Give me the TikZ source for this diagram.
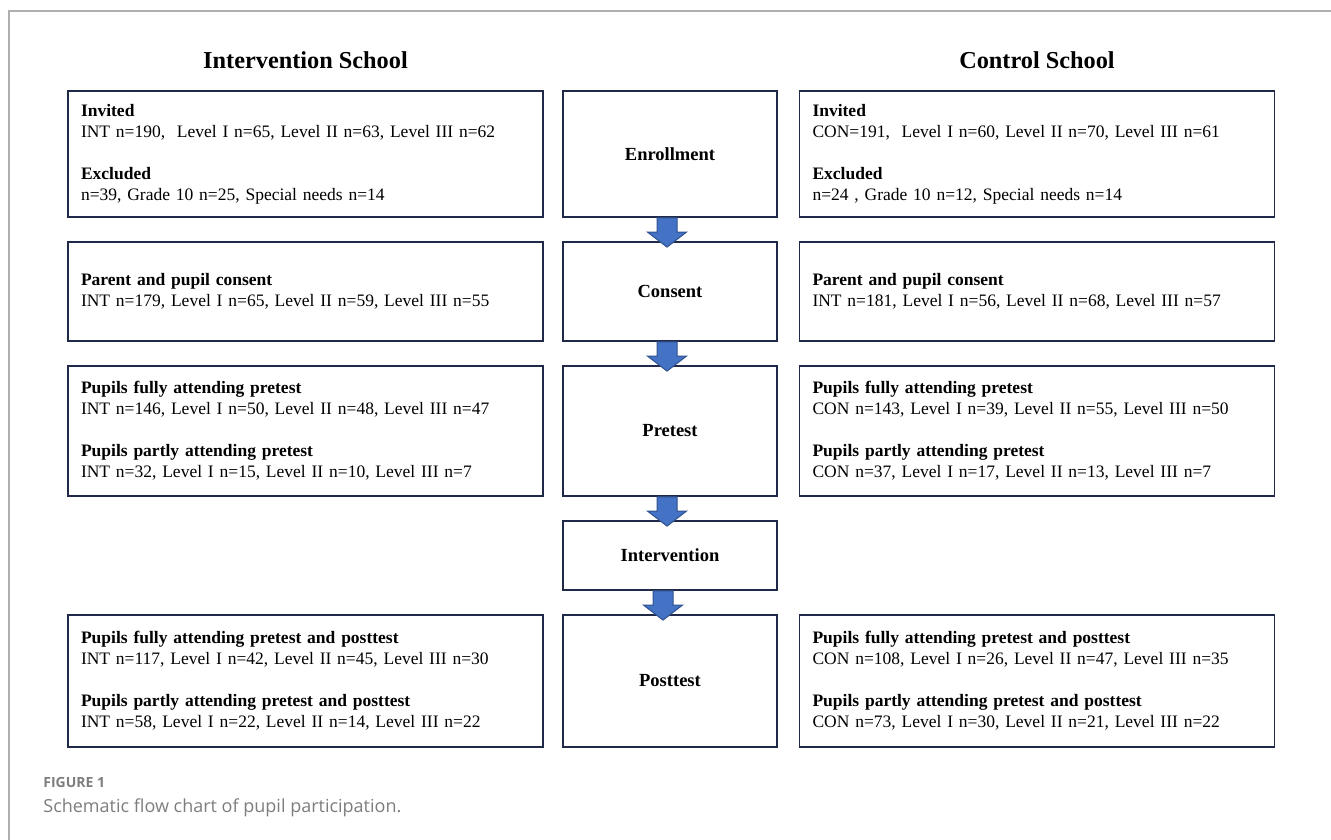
\documentclass[tikz,border=0pt]{standalone}
\usepackage{fontspec}
\setmainfont{Liberation Serif}
\newfontfamily\capfont{Open Sans}
\usetikzlibrary{calc}

\definecolor{boxline}{RGB}{32,42,72}
\definecolor{arrfill}{RGB}{68,114,196}
\definecolor{arrline}{RGB}{47,82,143}
\definecolor{framegray}{RGB}{175,175,175}
\definecolor{capgray}{RGB}{125,125,125}

\tikzset{every picture/.style={line width=0.75pt}}
\tikzset{
  sidebox/.style={draw=boxline, line width=1.8pt, rectangle, inner xsep=13pt, inner ysep=0pt, text width=449pt, align=left, font=\fontsize{17.5}{21}\selectfont},
  midbox/.style={draw=boxline, line width=1.8pt, rectangle, inner sep=0pt, minimum width=214pt, font=\bfseries\fontsize{18.5}{22}\selectfont},
  colhead/.style={anchor=base, inner sep=0pt, font=\bfseries\fontsize{24.3}{28}\selectfont},
  blockarrow/.style={fill=arrfill, draw=arrline, line width=1pt, line join=miter},
}

% block arrow from one stage box down to the next
\newcommand{\blockarr}[3][-3]{%
  \path let \p1=($(#2.south)+(#1,0)$), \p2=(#3.north) in
    [blockarrow] (\x1-10pt,\y1) -- (\x1+10pt,\y1) -- (\x1+10pt,\y2+9pt) -- (\x1+19.5pt,\y2+9pt)
    -- (\x1,\y2-6pt) -- (\x1-19.5pt,\y2+9pt) -- (\x1-10pt,\y2+9pt) -- cycle;}

\begin{document}
\begin{tikzpicture}[x=1pt,y=-1pt]
		\useasboundingbox (0,0) rectangle (1331,840);
		\draw [framegray, line width=1.5pt] (9,840) -- (9,11) -- (1331,11);

		\node [colhead] (inthead) at (305.5,69) {Intervention School};
		\node [colhead] (conhead) at (1037,69) {Control School};

		% middle column
		\node [midbox, minimum height=126pt] (enrol) at (670,154) {Enrollment};
		\node [midbox, minimum height=99pt] (consent) at (670,291.5) {Consent};
		\node [midbox, minimum height=130pt] (pretest) at (670,431) {Pretest};
		\node [midbox, minimum height=69pt] (interv) at (670,555.5) {Intervention};
		\node [midbox, minimum height=132pt] (posttest) at (670,681) {Posttest};

		% intervention school
		\node [sidebox, minimum height=126pt] (intenrol) at (305.5,154) {\textbf{Invited}\\INT n=190,\ \ Level I n=65, Level II n=63, Level III n=62\\[21pt]\textbf{Excluded}\\n=39, Grade 10 n=25, Special needs n=14};
		\node [sidebox, minimum height=99pt] (intconsent) at (305.5,291.5) {\textbf{Parent and pupil consent}\\INT n=179, Level I n=65, Level II n=59, Level III n=55};
		\node [sidebox, minimum height=130pt] (intpre) at (305.5,431) {\textbf{Pupils fully attending pretest}\\INT n=146, Level I n=50, Level II n=48, Level III n=47\\[21pt]\textbf{Pupils partly attending pretest}\\INT n=32, Level I n=15, Level II n=10, Level III n=7};
		\node [sidebox, minimum height=132pt] (intpost) at (305.5,681) {\textbf{Pupils fully attending pretest and posttest}\\INT n=117, Level I n=42, Level II n=45, Level III n=30\\[21pt]\textbf{Pupils partly attending pretest and posttest}\\INT n=58, Level I n=22, Level II n=14, Level III n=22};

		% control school
		\node [sidebox, minimum height=126pt] (conenrol) at (1037,154) {\textbf{Invited}\\CON=191,\ \ Level I n=60, Level II n=70, Level III n=61\\[21pt]\textbf{Excluded}\\n=24 , Grade 10 n=12, Special needs n=14};
		\node [sidebox, minimum height=99pt] (conconsent) at (1037,291.5) {\textbf{Parent and pupil consent}\\INT n=181, Level I n=56, Level II n=68, Level III n=57};
		\node [sidebox, minimum height=130pt] (conpre) at (1037,431) {\textbf{Pupils fully attending pretest}\\CON n=143, Level I n=39, Level II n=55, Level III n=50\\[21pt]\textbf{Pupils partly attending pretest}\\CON n=37, Level I n=17, Level II n=13, Level III n=7};
		\node [sidebox, minimum height=132pt] (conpost) at (1037,681) {\textbf{Pupils fully attending pretest and posttest}\\CON n=108, Level I n=26, Level II n=47, Level III n=35\\[21pt]\textbf{Pupils partly attending pretest and posttest}\\CON n=73, Level I n=30, Level II n=21, Level III n=22};

		\blockarr{enrol}{consent}
		\blockarr{consent}{pretest}
		\blockarr{pretest}{interv}
		\blockarr[-7]{interv}{posttest}

		\node [anchor=base west, inner sep=0pt, text=capgray, font=\capfont\bfseries\fontsize{14}{16}\selectfont] (figlabel) at (43,787) {FIGURE 1};
		\node [anchor=base west, inner sep=0pt, text=capgray, font=\capfont\fontsize{18}{21}\selectfont] (figcap) at (43,812) {Schematic flow chart of pupil participation.};
\end{tikzpicture}
\end{document}
